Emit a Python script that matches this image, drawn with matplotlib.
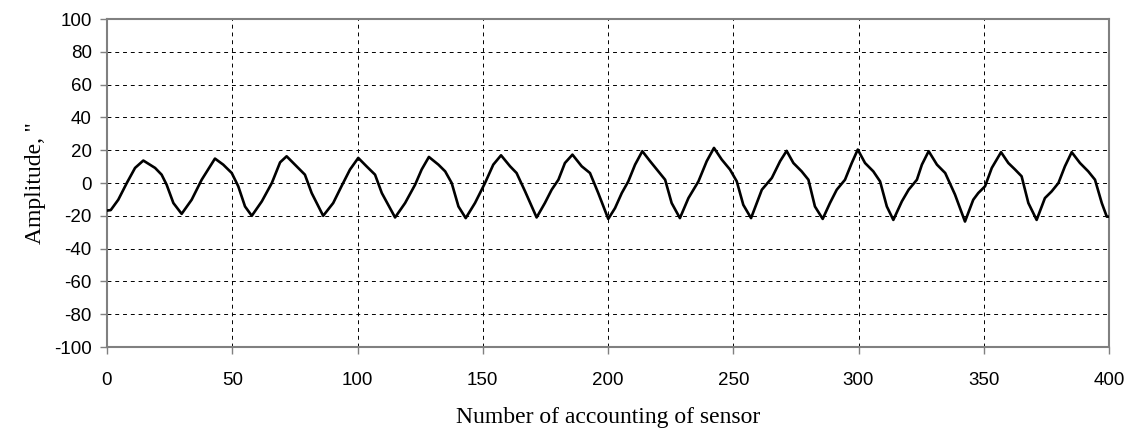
import matplotlib.pyplot as plt

plt.rcParams['axes.unicode_minus'] = False

# points
sample = [0, 1.5, 4.5, 7.9, 11.2, 14.5, 19.2, 21.8, 23.8, 26.5, 29.8,
          33.8, 37.8, 43.1, 46.4, 49.8, 52.4, 55.1, 57.8,
          61.8, 65.8, 69.1, 71.7, 75.7, 79, 81.7, 86.3,
          90.3, 93.6, 97, 100.3, 103.6, 107, 109.7, 115,
          119, 123, 125.6, 128.5, 132.3, 135, 137.6, 140.3, 143.2,
          146.9, 150.9, 154.2, 157.3, 160.9, 163.5, 166.9, 171.5,
          174.8, 177.5, 180.2, 182.8, 185.8, 189.5, 192.8, 196.1, 200.1,
          202.8, 205.5, 208.1, 210.8, 213.7, 216.8, 220.1, 222.8, 225.4, 228.7,
          232.1, 236.1, 239.4, 242.3, 245.4, 248.7, 251.4, 254, 257.1,
          261.4, 265.4, 268.7, 271.3, 274, 277.3, 280, 282.6, 285.7,
          288.6, 291.3, 294.6, 297.3, 299.7, 302.6, 305.9, 308.6, 311.3, 313.9,
          317.3, 320, 323.3, 325.3, 328, 331.3, 334.6, 338.5, 342.5,
          345.8, 347.8, 350.5, 353.2, 356.9, 359.8, 362.5, 365.1, 367.8, 371.1,
          374.4, 377.1, 379.8, 382.4, 385.1, 388.4, 391.7, 394.4, 397.1, 399.1, 400]
amplitude = [-16.8, -16.5, -10.2, 0, 9.2, 13.7, 9.2, 5.1, -1, -12.2, -18.8,
             -10.2, 2, 14.9, 11.2, 6.1, -2, -14.3, -20,
             -11.2, 0, 12.6, 16.3, 10.2, 5.1, -6.1, -20,
             -12.2, -2, 8.2, 15.3, 10.2, 5.1, -6.1, -21,
             -12.2, -1, 8.2, 15.9, 11.2, 7.1, 0, -14.3, -21.4,
             -12.2, 0, 11.2, 16.9, 10.2, 6.1, -5.1, -21,
             -12.2, -4.1, 2, 12.2, 17.3, 10.2, 6.1, -6.1, -21.9,
             -15.3, -6.1, 1, 11.2, 19.4, 13.3, 7.1, 2, -12.2, -21.4,
             -9.2, 1, 13.3, 21.4, 14.3, 8.2, 1, -13.3, -21.4,
             -4.1, 3.1, 13.3, 19.6, 12.2, 7.1, 2, -14.3, -21.9,
             -12.2, -4.1, 2, 12.2, 20.4, 12.2, 7.1, 1, -14.3, -22.5,
             -11.2, -4.1, 2, 11.2, 19.4, 11.2, 6.1, -7, -23.5,
             -10.2, -6.1, -2, 9.2, 18.8, 12.2, 8.2, 4.1, -12.2, -22.5,
             -9.2, -5.1, 0, 10.2, 18.8, 12.2, 7.1, 2, -12.2, -20.5, -20.5]

x_ticks = [0, 50, 100, 150, 200, 250, 300, 350, 400]
y_ticks = [-100, -80, -60, -40, -20, 0, 20, 40, 60, 80, 100]

fig = plt.figure(figsize=(11.37, 4.37), dpi=100)
ax = fig.add_axes([0.0941, 0.2059, 0.8813, 0.7506])

ax.plot(sample, amplitude, color='black', lw=1.9, solid_joinstyle='round', zorder=3)

ax.set_xlim(0, 400)
ax.set_ylim(-100, 100)
ax.set_xticks(x_ticks)
ax.set_yticks(y_ticks)
ax.grid(True, color='black', lw=0.7, ls=(0, (4, 4)))

for s in ax.spines.values():
    s.set_color('#808080')
    s.set_linewidth(1.5)
ax.tick_params(direction='out', length=5, width=1, color='#808080',
               labelsize=13.5, labelcolor='black')
ax.tick_params(axis='x', pad=13)
ax.tick_params(axis='y', pad=6)
for lab in ax.get_xticklabels() + ax.get_yticklabels():
    lab.set_family('Liberation Sans')

ax.set_xlabel('Number of accounting of sensor', family='Liberation Serif',
              fontsize=17, labelpad=13)
ax.set_ylabel("Amplitude, ''", family='Liberation Serif', fontsize=17, labelpad=6)

fig.savefig('out.png', dpi=100)
